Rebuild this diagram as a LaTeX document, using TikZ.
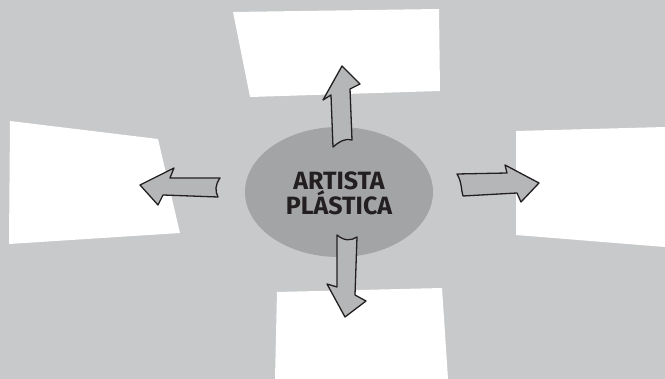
\documentclass[tikz,border=0pt]{standalone}
\usepackage{fontspec}
\setmainfont{Fira Sans}
\usepackage{tikz}
\usetikzlibrary{positioning,shapes,calc}
\definecolor{bggray}{HTML}{C8C9CB}
\definecolor{ovalgray}{HTML}{A3A4A6}
\definecolor{arrowgray}{HTML}{B5B6B8}
\definecolor{inkdark}{HTML}{231F20}

\begin{document}
\begin{tikzpicture}[x=1pt, y=-1pt,
  card/.style={fill=white},
  blockarrow/.style={fill=arrowgray, draw=inkdark, line width=1.3pt, line join=round}]
\useasboundingbox (0,0) rectangle (665,379);
\fill[bggray] (0,0) rectangle (665,379);
% white cards
\fill[card] (233,12) -- (439,9) -- (440,91) -- (250,97) -- cycle;
\fill[card] (10,121) -- (158,139) -- (180,233) -- (9,244) -- cycle;
\fill[card] (516,131) -- (665,127) -- (665,247) -- (516,235) -- cycle;
\fill[card] (277,292) -- (442,288) -- (448,379) -- (275,379) -- cycle;
% centre
\node (centre) at (339,192) [ellipse, fill=ovalgray, minimum width=188pt, minimum height=130pt] {};
\node (title) at (centre) [text=inkdark, font=\bfseries\fontsize{25}{25}\selectfont, align=center, yshift=-1.5pt] {ARTISTA\\PLÁSTICA};
% arrows
\draw[blockarrow] (333,147) .. controls (340,141) and (346,138) .. (352,140) -- (350,89) -- (360,84) -- (342,66) -- (323,100) -- (331,95) -- cycle;
\draw[blockarrow] (337,235) .. controls (344,241) and (351,241) .. (357,237) -- (355,295) -- (366,301) -- (345,317) -- (327,284) -- (337,287) -- cycle;
\draw[blockarrow] (220,178) .. controls (215,185) and (215,191) .. (218,197) -- (163,195) -- (158,205) -- (140,185) -- (174,168) -- (170,178) -- cycle;
\draw[blockarrow] (457,174) .. controls (462,182) and (461,190) .. (463,196) -- (517,193) -- (521,202) -- (539,183) -- (505,165) -- (507,173) -- cycle;
\end{tikzpicture}
\end{document}
